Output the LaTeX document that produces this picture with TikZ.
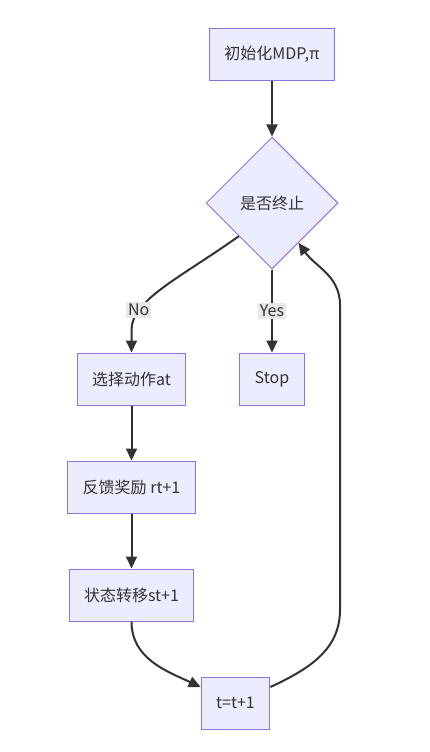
\documentclass[tikz,border=0pt]{standalone}
\usepackage{fontspec}
\setmainfont{Noto Sans CJK SC}
\usepackage{tikz,xcolor}
\usetikzlibrary{shapes.geometric,arrows.meta,calc}
\definecolor{boxfill}{HTML}{ECECFF}
\definecolor{boxline}{HTML}{9370DB}
\definecolor{edgeline}{HTML}{333333}
\definecolor{labfill}{HTML}{E8E8E8}

\begin{document}
\begin{tikzpicture}[x=1pt,y=-1pt,
  stepbox/.style={draw=boxline,fill=boxfill,line width=1pt,minimum height=52pt,inner xsep=15pt,font=\fontsize{16}{19}\selectfont,text=edgeline},
  decbox/.style={diamond,aspect=1,draw=boxline,fill=boxfill,line width=1pt,minimum width=132pt,minimum height=132pt,inner sep=0pt,font=\fontsize{16}{19}\selectfont,text=edgeline},
  flow/.style={draw=edgeline,line width=2pt,-{Triangle[length=12pt,width=11pt]}},
  lab/.style={fill=labfill,inner sep=2pt,font=\fontsize{16}{19}\selectfont,text=edgeline}]
\useasboundingbox[fill=white] (0,0) rectangle (430,752);

\node[stepbox] (init) at (272,54.5) {初始化MDP,π};
\node[decbox] (dec) at (272,203) {是否终止};

\node[stepbox] (act) at (131.5,379) {选择动作at};
\node[stepbox] (stop) at (272,379) {Stop};
\node[stepbox] (fb) at (131.5,487) {反馈奖励 rt+1};
\node[stepbox] (st) at (131.5,595) {状态转移st+1};
\node[stepbox] (tick) at (235.5,703) {t=t+1};

\coordinate (lbend) at (131.5,330);
\coordinate (rbot) at (340,610);
\coordinate (rtop) at (340,305);
\coordinate (back) at ($(dec.east)!0.6!(dec.south)$);

\draw[flow] (init) -- (dec);
\draw[flow] (dec.south west) .. controls (180,278) and (131.5,300) .. node[lab,pos=0.77]{No} (lbend) -- (act.north);
\draw[flow] (dec.south) -- node[lab,pos=0.5]{Yes} (stop.north);
\draw[flow] (act) -- (fb);
\draw[flow] (fb) -- (st);
\draw[flow] (st.south) to[out=-90,in=155] ([yshift=16pt]tick.west);
\draw[flow] ([yshift=16pt]tick.east) to[out=25,in=-90] (rbot) -- (rtop) to[out=90,in=-55] (back);

\end{tikzpicture}
\end{document}
